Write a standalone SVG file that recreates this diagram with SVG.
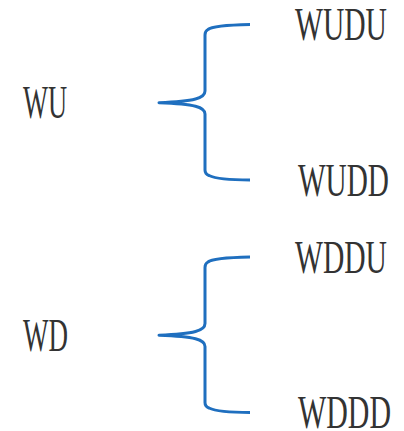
<svg xmlns="http://www.w3.org/2000/svg" width="404" height="431" viewBox="0 0 404 431">
<style>
.lbl{font-family:"Liberation Serif","Times New Roman",serif;font-size:46px;fill:#333333}
.br{fill:none;stroke:#1f6fbf;stroke-width:3;stroke-linecap:butt;stroke-linejoin:round}
</style>
<defs>
<path id="brace" class="br" d="M250,24.5 C226,25 212,26 208,29.5 Q205,31 205,35 L205,91 C205,98 195,101.5 159,102.7 C195,104 205,107 205,114 L205,170 Q205,174 209,175.5 C214,178 230,180 250,180"/>
</defs>
<g id="connectors">
<use href="#brace"/>
<use href="#brace" transform="translate(0,232.5)"/>
</g>
<g id="node-WU"><text class="lbl" transform="translate(23,118) scale(0.575,1)">WU</text></g>
<g id="node-WUDU"><text class="lbl" transform="translate(295,40) scale(0.643,1)">WUDU</text></g>
<g id="node-WUDD"><text class="lbl" transform="translate(298,196) scale(0.636,1)">WUDD</text></g>
<g id="node-WD"><text class="lbl" transform="translate(23,351) scale(0.587,1)">WD</text></g>
<g id="node-WDDU"><text class="lbl" transform="translate(295,273) scale(0.643,1)">WDDU</text></g>
<g id="node-WDDD"><text class="lbl" transform="translate(298,428) scale(0.65,1)">WDDD</text></g>
</svg>
